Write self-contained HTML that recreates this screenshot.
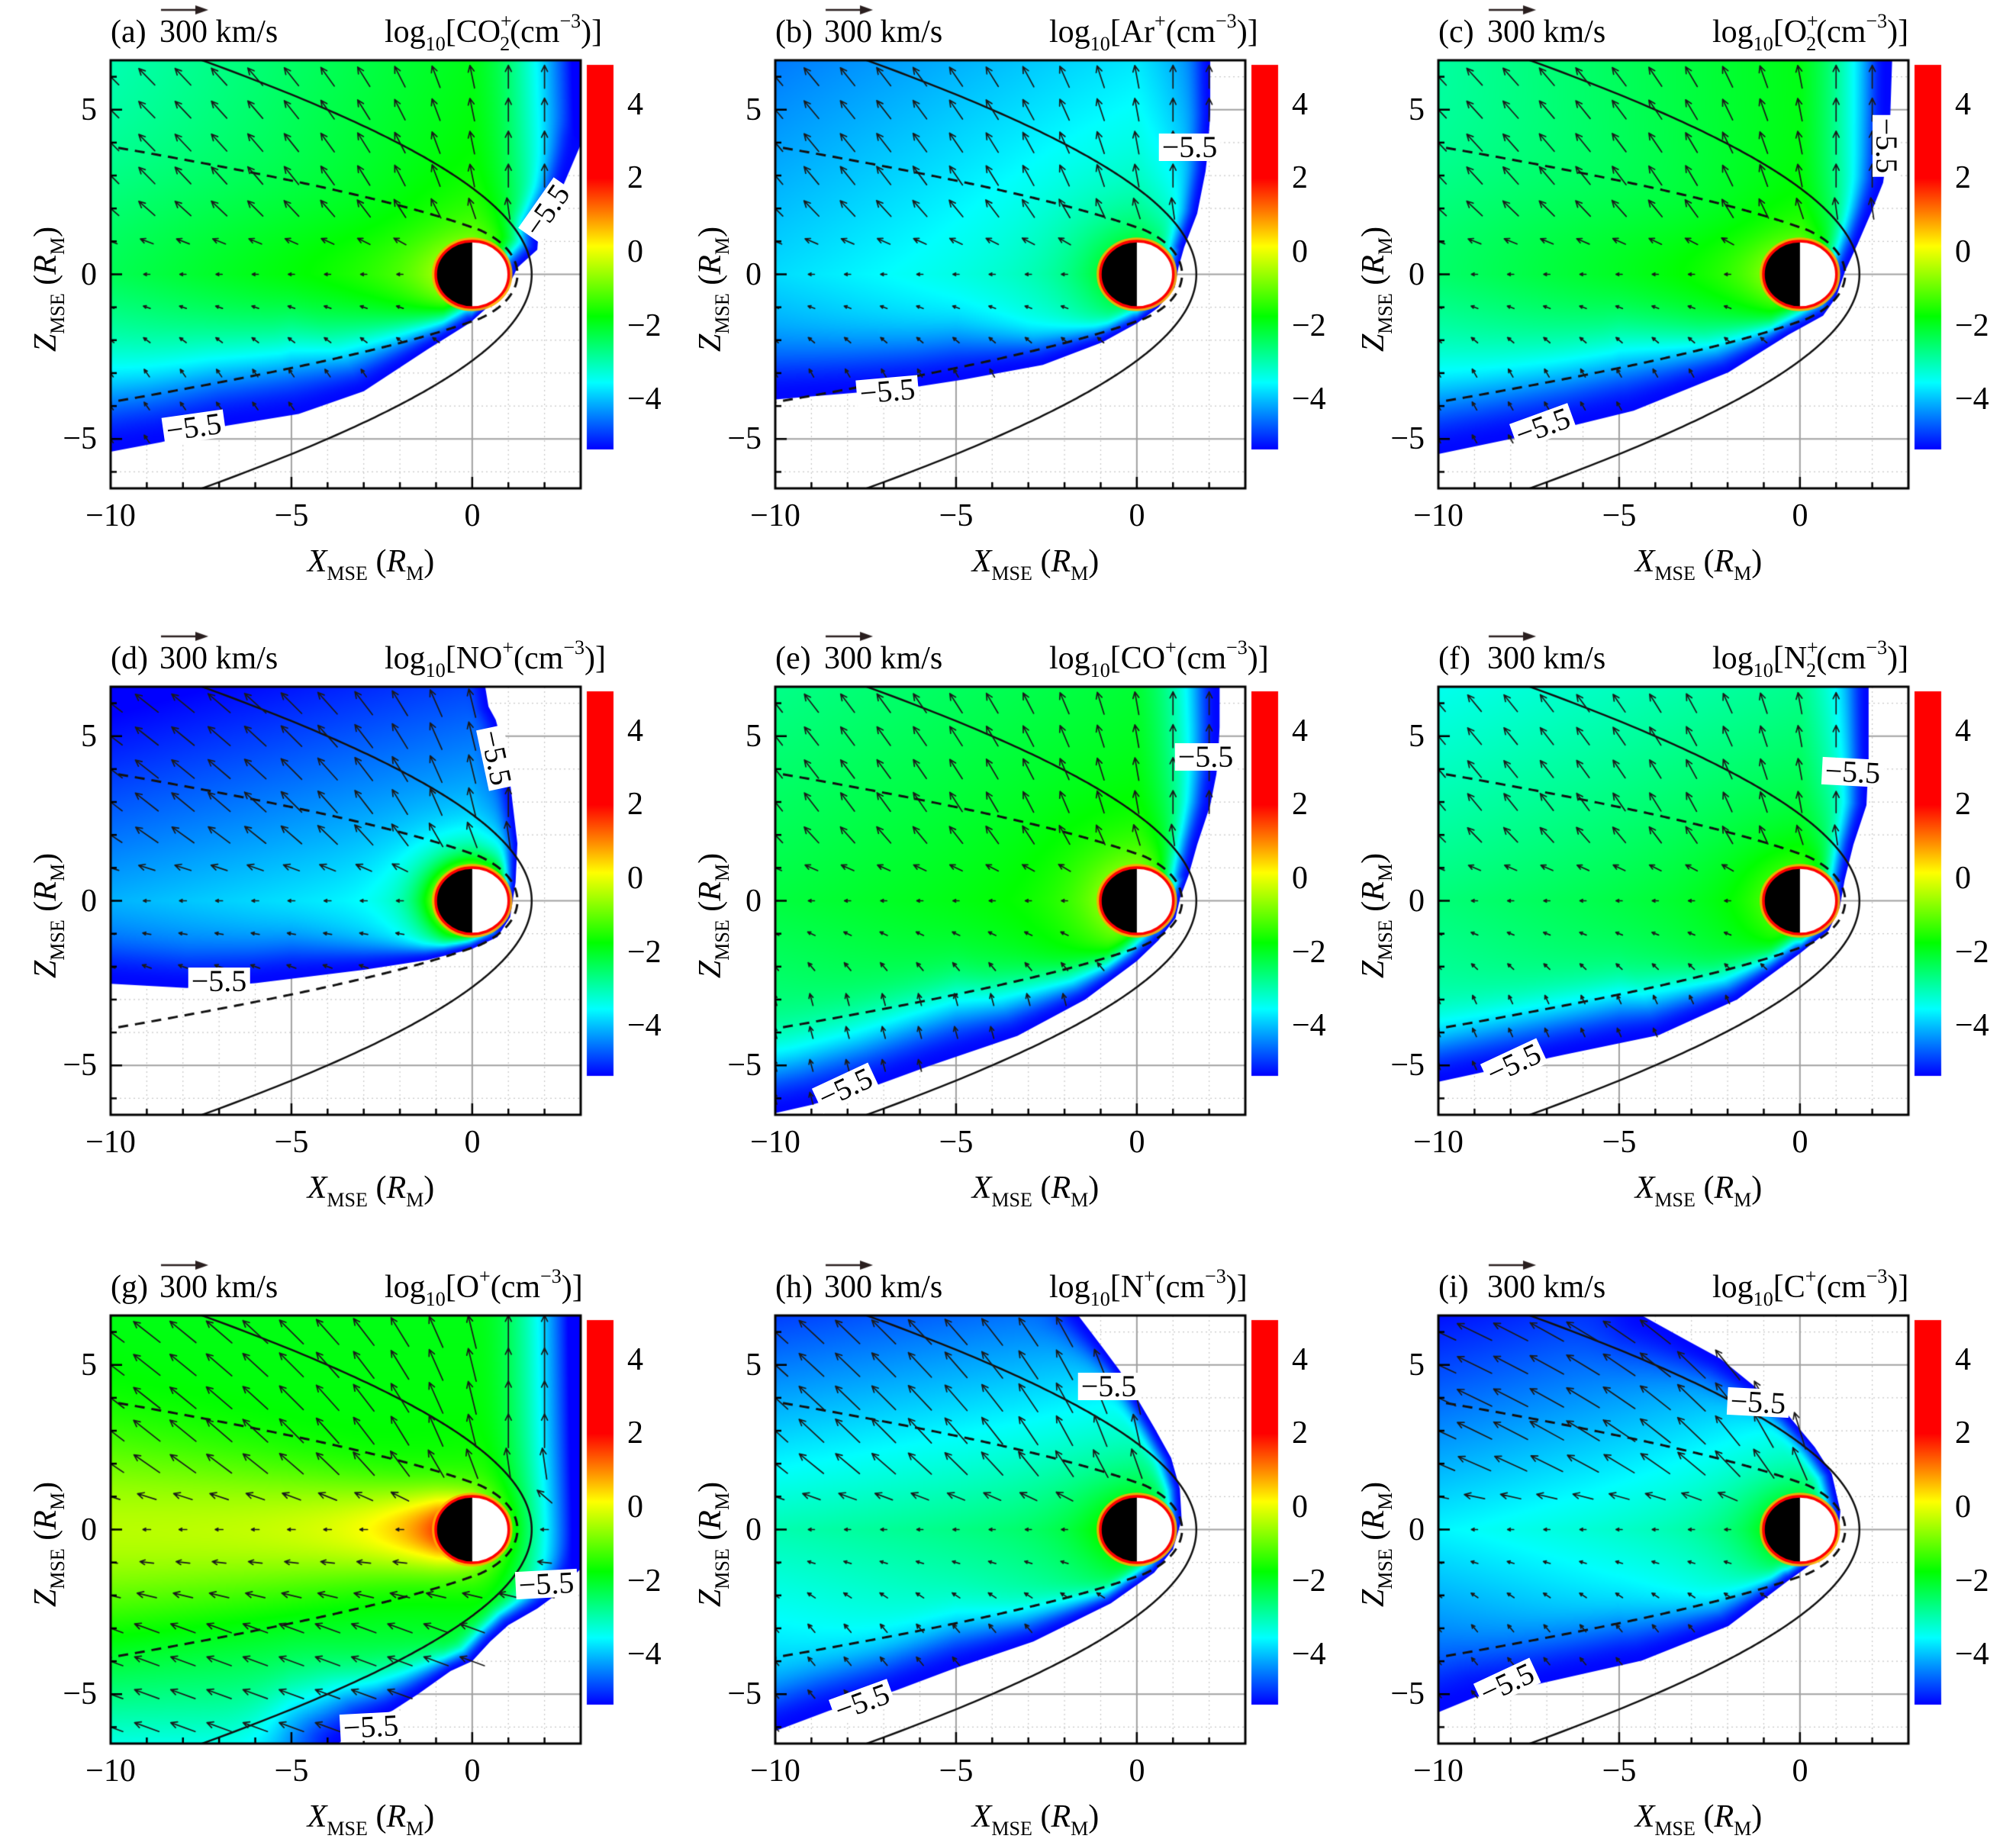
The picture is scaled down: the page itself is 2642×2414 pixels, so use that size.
<!DOCTYPE html>
<html><head><meta charset="utf-8">
<style>
html,body{margin:0;padding:0;background:#fff;}
body{width:2642px;height:2414px;position:relative;overflow:hidden;font-family:"Liberation Serif","DejaVu Serif",serif;color:#000;}
#c{position:absolute;left:0;top:0;}
.t{position:absolute;font-size:42px;line-height:42px;white-space:nowrap;}
.sb{font-size:0.62em;position:relative;top:0.42em;line-height:0;}
.sp{font-size:0.62em;position:relative;top:-0.72em;line-height:0;}
.r{transform:translateX(-100%);}
.ctr{transform:translateX(-50%);}
.zl{transform:translate(-50%,-50%) rotate(-90deg);}
.cl{position:absolute;background:#fff;font-size:40px;line-height:36px;padding:0 4px;white-space:nowrap;}
</style></head><body>
<canvas id="c" width="2642" height="2414"></canvas>

<!-- Panel (a) L=145 T=79 -->
<div class="t" style="left:145px;top:21px">(a)</div>
<div class="t" style="left:209px;top:21px">300 km/s</div>
<div class="t" style="left:504px;top:21px">log<span class="sb">10</span>[CO<span class="sp">+</span><span class="sb" style="margin-left:-0.6em">2</span>(cm<span class="sp">−3</span>)]</div>
<div class="t r" style="left:127px;top:123px">5</div>
<div class="t r" style="left:127px;top:339px">0</div>
<div class="t r" style="left:127px;top:554px">−5</div>
<div class="t ctr" style="left:145px;top:655px">−10</div>
<div class="t ctr" style="left:382px;top:655px">−5</div>
<div class="t ctr" style="left:619px;top:655px">0</div>
<div class="t" style="left:822px;top:116px">4</div>
<div class="t" style="left:822px;top:212px">2</div>
<div class="t" style="left:822px;top:309px">0</div>
<div class="t" style="left:822px;top:406px">−2</div>
<div class="t" style="left:822px;top:502px">−4</div>
<div class="t ctr" style="left:486px;top:715px"><i>X</i><span class="sb">MSE</span> (<i>R</i><span class="sb">M</span>)</div>
<div class="t zl" style="left:60px;top:379px"><i>Z</i><span class="sb">MSE</span> (<i>R</i><span class="sb">M</span>)</div>
<div class="cl" style="left:717px;top:276px;transform:translate(-50%,-50%) rotate(-55deg)">−5.5</div>
<div class="cl" style="left:254px;top:560px;transform:translate(-50%,-50%) rotate(-8deg)">−5.5</div>

<!-- Panel (b) L=1016 T=79 -->
<div class="t" style="left:1016px;top:21px">(b)</div>
<div class="t" style="left:1080px;top:21px">300 km/s</div>
<div class="t" style="left:1375px;top:21px">log<span class="sb">10</span>[Ar<span class="sp">+</span>(cm<span class="sp">−3</span>)]</div>
<div class="t r" style="left:998px;top:123px">5</div>
<div class="t r" style="left:998px;top:339px">0</div>
<div class="t r" style="left:998px;top:554px">−5</div>
<div class="t ctr" style="left:1016px;top:655px">−10</div>
<div class="t ctr" style="left:1253px;top:655px">−5</div>
<div class="t ctr" style="left:1490px;top:655px">0</div>
<div class="t" style="left:1693px;top:116px">4</div>
<div class="t" style="left:1693px;top:212px">2</div>
<div class="t" style="left:1693px;top:309px">0</div>
<div class="t" style="left:1693px;top:406px">−2</div>
<div class="t" style="left:1693px;top:502px">−4</div>
<div class="t ctr" style="left:1357px;top:715px"><i>X</i><span class="sb">MSE</span> (<i>R</i><span class="sb">M</span>)</div>
<div class="t zl" style="left:931px;top:379px"><i>Z</i><span class="sb">MSE</span> (<i>R</i><span class="sb">M</span>)</div>
<div class="cl" style="left:1559px;top:193px;transform:translate(-50%,-50%)">−5.5</div>
<div class="cl" style="left:1163px;top:513px;transform:translate(-50%,-50%) rotate(-5deg)">−5.5</div>

<!-- Panel (c) L=1885 T=79 -->
<div class="t" style="left:1885px;top:21px">(c)</div>
<div class="t" style="left:1949px;top:21px">300 km/s</div>
<div class="t" style="left:2244px;top:21px">log<span class="sb">10</span>[O<span class="sp">+</span><span class="sb" style="margin-left:-0.6em">2</span>(cm<span class="sp">−3</span>)]</div>
<div class="t r" style="left:1867px;top:123px">5</div>
<div class="t r" style="left:1867px;top:339px">0</div>
<div class="t r" style="left:1867px;top:554px">−5</div>
<div class="t ctr" style="left:1885px;top:655px">−10</div>
<div class="t ctr" style="left:2122px;top:655px">−5</div>
<div class="t ctr" style="left:2359px;top:655px">0</div>
<div class="t" style="left:2562px;top:116px">4</div>
<div class="t" style="left:2562px;top:212px">2</div>
<div class="t" style="left:2562px;top:309px">0</div>
<div class="t" style="left:2562px;top:406px">−2</div>
<div class="t" style="left:2562px;top:502px">−4</div>
<div class="t ctr" style="left:2226px;top:715px"><i>X</i><span class="sb">MSE</span> (<i>R</i><span class="sb">M</span>)</div>
<div class="t zl" style="left:1800px;top:379px"><i>Z</i><span class="sb">MSE</span> (<i>R</i><span class="sb">M</span>)</div>
<div class="cl" style="left:2472px;top:191px;transform:translate(-50%,-50%) rotate(90deg)">−5.5</div>
<div class="cl" style="left:2022px;top:559px;transform:translate(-50%,-50%) rotate(-20deg)">−5.5</div>

<!-- Panel (d) L=145 T=900 -->
<div class="t" style="left:145px;top:842px">(d)</div>
<div class="t" style="left:209px;top:842px">300 km/s</div>
<div class="t" style="left:504px;top:842px">log<span class="sb">10</span>[NO<span class="sp">+</span>(cm<span class="sp">−3</span>)]</div>
<div class="t r" style="left:127px;top:944px">5</div>
<div class="t r" style="left:127px;top:1160px">0</div>
<div class="t r" style="left:127px;top:1375px">−5</div>
<div class="t ctr" style="left:145px;top:1476px">−10</div>
<div class="t ctr" style="left:382px;top:1476px">−5</div>
<div class="t ctr" style="left:619px;top:1476px">0</div>
<div class="t" style="left:822px;top:937px">4</div>
<div class="t" style="left:822px;top:1033px">2</div>
<div class="t" style="left:822px;top:1130px">0</div>
<div class="t" style="left:822px;top:1227px">−2</div>
<div class="t" style="left:822px;top:1323px">−4</div>
<div class="t ctr" style="left:486px;top:1536px"><i>X</i><span class="sb">MSE</span> (<i>R</i><span class="sb">M</span>)</div>
<div class="t zl" style="left:60px;top:1200px"><i>Z</i><span class="sb">MSE</span> (<i>R</i><span class="sb">M</span>)</div>
<div class="cl" style="left:650px;top:993px;transform:translate(-50%,-50%) rotate(78deg)">−5.5</div>
<div class="cl" style="left:287px;top:1286px;transform:translate(-50%,-50%)">−5.5</div>

<!-- Panel (e) L=1016 T=900 -->
<div class="t" style="left:1016px;top:842px">(e)</div>
<div class="t" style="left:1080px;top:842px">300 km/s</div>
<div class="t" style="left:1375px;top:842px">log<span class="sb">10</span>[CO<span class="sp">+</span>(cm<span class="sp">−3</span>)]</div>
<div class="t r" style="left:998px;top:944px">5</div>
<div class="t r" style="left:998px;top:1160px">0</div>
<div class="t r" style="left:998px;top:1375px">−5</div>
<div class="t ctr" style="left:1016px;top:1476px">−10</div>
<div class="t ctr" style="left:1253px;top:1476px">−5</div>
<div class="t ctr" style="left:1490px;top:1476px">0</div>
<div class="t" style="left:1693px;top:937px">4</div>
<div class="t" style="left:1693px;top:1033px">2</div>
<div class="t" style="left:1693px;top:1130px">0</div>
<div class="t" style="left:1693px;top:1227px">−2</div>
<div class="t" style="left:1693px;top:1323px">−4</div>
<div class="t ctr" style="left:1357px;top:1536px"><i>X</i><span class="sb">MSE</span> (<i>R</i><span class="sb">M</span>)</div>
<div class="t zl" style="left:931px;top:1200px"><i>Z</i><span class="sb">MSE</span> (<i>R</i><span class="sb">M</span>)</div>
<div class="cl" style="left:1580px;top:992px;transform:translate(-50%,-50%)">−5.5</div>
<div class="cl" style="left:1108px;top:1426px;transform:translate(-50%,-50%) rotate(-25deg)">−5.5</div>

<!-- Panel (f) L=1885 T=900 -->
<div class="t" style="left:1885px;top:842px">(f)</div>
<div class="t" style="left:1949px;top:842px">300 km/s</div>
<div class="t" style="left:2244px;top:842px">log<span class="sb">10</span>[N<span class="sp">+</span><span class="sb" style="margin-left:-0.6em">2</span>(cm<span class="sp">−3</span>)]</div>
<div class="t r" style="left:1867px;top:944px">5</div>
<div class="t r" style="left:1867px;top:1160px">0</div>
<div class="t r" style="left:1867px;top:1375px">−5</div>
<div class="t ctr" style="left:1885px;top:1476px">−10</div>
<div class="t ctr" style="left:2122px;top:1476px">−5</div>
<div class="t ctr" style="left:2359px;top:1476px">0</div>
<div class="t" style="left:2562px;top:937px">4</div>
<div class="t" style="left:2562px;top:1033px">2</div>
<div class="t" style="left:2562px;top:1130px">0</div>
<div class="t" style="left:2562px;top:1227px">−2</div>
<div class="t" style="left:2562px;top:1323px">−4</div>
<div class="t ctr" style="left:2226px;top:1536px"><i>X</i><span class="sb">MSE</span> (<i>R</i><span class="sb">M</span>)</div>
<div class="t zl" style="left:1800px;top:1200px"><i>Z</i><span class="sb">MSE</span> (<i>R</i><span class="sb">M</span>)</div>
<div class="cl" style="left:2428px;top:1012px;transform:translate(-50%,-50%) rotate(3deg)">−5.5</div>
<div class="cl" style="left:1984px;top:1394px;transform:translate(-50%,-50%) rotate(-25deg)">−5.5</div>

<!-- Panel (g) L=145 T=1724 -->
<div class="t" style="left:145px;top:1666px">(g)</div>
<div class="t" style="left:209px;top:1666px">300 km/s</div>
<div class="t" style="left:504px;top:1666px">log<span class="sb">10</span>[O<span class="sp">+</span>(cm<span class="sp">−3</span>)]</div>
<div class="t r" style="left:127px;top:1768px">5</div>
<div class="t r" style="left:127px;top:1984px">0</div>
<div class="t r" style="left:127px;top:2199px">−5</div>
<div class="t ctr" style="left:145px;top:2300px">−10</div>
<div class="t ctr" style="left:382px;top:2300px">−5</div>
<div class="t ctr" style="left:619px;top:2300px">0</div>
<div class="t" style="left:822px;top:1761px">4</div>
<div class="t" style="left:822px;top:1857px">2</div>
<div class="t" style="left:822px;top:1954px">0</div>
<div class="t" style="left:822px;top:2051px">−2</div>
<div class="t" style="left:822px;top:2147px">−4</div>
<div class="t ctr" style="left:486px;top:2360px"><i>X</i><span class="sb">MSE</span> (<i>R</i><span class="sb">M</span>)</div>
<div class="t zl" style="left:60px;top:2024px"><i>Z</i><span class="sb">MSE</span> (<i>R</i><span class="sb">M</span>)</div>
<div class="cl" style="left:716px;top:2076px;transform:translate(-50%,-50%) rotate(-3deg)">−5.5</div>
<div class="cl" style="left:486px;top:2263px;transform:translate(-50%,-50%) rotate(-3deg)">−5.5</div>

<!-- Panel (h) L=1016 T=1724 -->
<div class="t" style="left:1016px;top:1666px">(h)</div>
<div class="t" style="left:1080px;top:1666px">300 km/s</div>
<div class="t" style="left:1375px;top:1666px">log<span class="sb">10</span>[N<span class="sp">+</span>(cm<span class="sp">−3</span>)]</div>
<div class="t r" style="left:998px;top:1768px">5</div>
<div class="t r" style="left:998px;top:1984px">0</div>
<div class="t r" style="left:998px;top:2199px">−5</div>
<div class="t ctr" style="left:1016px;top:2300px">−10</div>
<div class="t ctr" style="left:1253px;top:2300px">−5</div>
<div class="t ctr" style="left:1490px;top:2300px">0</div>
<div class="t" style="left:1693px;top:1761px">4</div>
<div class="t" style="left:1693px;top:1857px">2</div>
<div class="t" style="left:1693px;top:1954px">0</div>
<div class="t" style="left:1693px;top:2051px">−2</div>
<div class="t" style="left:1693px;top:2147px">−4</div>
<div class="t ctr" style="left:1357px;top:2360px"><i>X</i><span class="sb">MSE</span> (<i>R</i><span class="sb">M</span>)</div>
<div class="t zl" style="left:931px;top:2024px"><i>Z</i><span class="sb">MSE</span> (<i>R</i><span class="sb">M</span>)</div>
<div class="cl" style="left:1453px;top:1817px;transform:translate(-50%,-50%)">−5.5</div>
<div class="cl" style="left:1130px;top:2231px;transform:translate(-50%,-50%) rotate(-20deg)">−5.5</div>

<!-- Panel (i) L=1885 T=1724 -->
<div class="t" style="left:1885px;top:1666px">(i)</div>
<div class="t" style="left:1949px;top:1666px">300 km/s</div>
<div class="t" style="left:2244px;top:1666px">log<span class="sb">10</span>[C<span class="sp">+</span>(cm<span class="sp">−3</span>)]</div>
<div class="t r" style="left:1867px;top:1768px">5</div>
<div class="t r" style="left:1867px;top:1984px">0</div>
<div class="t r" style="left:1867px;top:2199px">−5</div>
<div class="t ctr" style="left:1885px;top:2300px">−10</div>
<div class="t ctr" style="left:2122px;top:2300px">−5</div>
<div class="t ctr" style="left:2359px;top:2300px">0</div>
<div class="t" style="left:2562px;top:1761px">4</div>
<div class="t" style="left:2562px;top:1857px">2</div>
<div class="t" style="left:2562px;top:1954px">0</div>
<div class="t" style="left:2562px;top:2051px">−2</div>
<div class="t" style="left:2562px;top:2147px">−4</div>
<div class="t ctr" style="left:2226px;top:2360px"><i>X</i><span class="sb">MSE</span> (<i>R</i><span class="sb">M</span>)</div>
<div class="t zl" style="left:1800px;top:2024px"><i>Z</i><span class="sb">MSE</span> (<i>R</i><span class="sb">M</span>)</div>
<div class="cl" style="left:2304px;top:1838px;transform:translate(-50%,-50%) rotate(3deg)">−5.5</div>
<div class="cl" style="left:1975px;top:2206px;transform:translate(-50%,-50%) rotate(-25deg)">−5.5</div>

<script>
(function(){
var cv=document.getElementById('c');var ctx=cv.getContext('2d');
var W=616,H=561,SX=W/13,SZ=H/13;
var COLS=[145,1016,1885],ROWS=[79,900,1724];
var STOPS=[[-5.4,0,0,255],[-3.55,0,255,255],[-1.75,0,255,0],[0.15,255,255,0],[1.05,255,128,0],[2.0,255,0,0]];
function cmap(v){
  if(v<=STOPS[0][0])return [0,0,255];
  for(var i=1;i<STOPS.length;i++){var s1=STOPS[i];if(v<=s1[0]){var s0=STOPS[i-1];var t=(v-s0[0])/(s1[0]-s0[0]);
    return [s0[1]+(s1[1]-s0[1])*t,s0[2]+(s1[2]-s0[2])*t,s0[3]+(s1[3]-s0[3])*t];}}
  return [255,0,0];
}
var DEF={A:-2,Gx:0,R1:0,R2:0,Zu:0,Zl:0,Zq:0,N:0,Ln:1,Tt:0,Tb:0,Lb:2,w0:0.8,w1:0.25,ld:1.2,phi:45,Lu:30,Lt:8,tl:120,Ll:12};
var PANELS=[
 {c:0,r:0,A:-1.6,Gx:0.11,R1:0.3,R2:0.35,Zu:-0.05,Zl:-0.25,N:0.8,Ln:1.0,Tt:0.35,w0:0.8,w1:0.25,ld:1.8,phi:47,Lu:30,Lt:8,tl:125,Ll:12,
  poly:[[-10,6.5],[3,6.5],[3,3.94],[2.4,2.4],[1.85,1.45],[1.8,0.75],[1.25,0.2],[1.12,-0.09],[0.95,-0.5],[0.53,-0.9],[-0.06,-1.47],[-1.24,-2.28],[-3.0,-3.55],[-4.8,-4.24],[-6.8,-4.6],[-8.6,-5.1],[-10,-5.39]]},
 {c:1,r:0,A:-3.0,Gx:0.08,R1:0.3,R2:0.1,Zu:-0.11,Zl:-0.2,N:1.0,Ln:1.2,ld:1.3,phi:42,Lu:30,Lt:8,tl:120,Ll:12,
  poly:[[-10,6.5],[2.03,6.5],[2.03,4.85],[1.95,3.6],[1.9,3.12],[1.67,1.85],[1.31,0.82],[1.15,0.2],[1.05,-0.4],[0.6,-1.0],[0,-1.49],[-0.95,-2.06],[-2.6,-2.75],[-4.8,-3.2],[-6,-3.4],[-7.8,-3.6],[-10,-3.8]]},
 {c:2,r:0,A:-1.9,Gx:0.1,R1:0.5,R2:0.4,Zu:0,Zl:-0.2,N:0.8,Ln:1.0,Tt:0.4,w0:0.8,w1:0.25,ld:1.7,phi:45,Lu:30,Lt:8,tl:120,Ll:12,
  poly:[[-10,6.5],[2.55,6.5],[2.5,4.85],[2.4,3.5],[2.3,2.78],[1.96,1.85],[1.6,0.93],[1.25,0.1],[1.0,-0.7],[0.64,-1.26],[-0.31,-1.83],[-1.98,-2.98],[-4.6,-4.14],[-6.3,-4.6],[-8.0,-5.0],[-10,-5.46]]},
 {c:0,r:1,A:-3.4,Gx:0.07,R1:0.5,R2:0,Zu:-0.23,Zl:-0.3,N:3.0,Ln:0.58,ld:1.0,phi:55,Lu:38,Lt:9,tl:150,Ll:14,
  poly:[[-10,6.5],[0.36,6.5],[0.45,5.9],[0.65,5.5],[0.9,4.5],[1.07,3.4],[1.25,1.74],[1.2,0.56],[1.05,-0.5],[0.7,-1.1],[0,-1.46],[-1.25,-1.8],[-3,-2.1],[-6,-2.5],[-7.9,-2.65],[-10,-2.52]]},
 {c:1,r:1,A:-1.6,Gx:0.06,R1:0.4,R2:0.45,Zu:-0.08,Zl:-0.12,N:0.95,Ln:1.0,ld:1.7,phi:40,Lu:30,Lt:8,tl:105,Ll:16,
  poly:[[-10,6.5],[2.29,6.5],[2.29,5.28],[2.25,4.4],[2.2,3.84],[2.03,2.9],[1.67,1.71],[1.43,0.77],[1.2,0.1],[1.07,-0.53],[0.6,-1.2],[0,-1.83],[-1.43,-3.0],[-3.3,-4.1],[-5.7,-5.0],[-7.2,-5.6],[-9,-6.2],[-10,-6.45]]},
 {c:2,r:1,A:-1.9,Gx:0.07,R1:0.4,R2:0.4,Zu:-0.13,Zl:-0.1,N:0.75,Ln:1.0,ld:1.5,phi:42,Lu:28,Lt:8,tl:115,Ll:12,
  poly:[[-10,6.5],[1.9,6.5],[1.9,4.33],[1.84,2.9],[1.48,1.71],[1.24,0.65],[1.1,-0.2],[0.8,-0.9],[0,-1.6],[-1.74,-3.0],[-3.9,-4.08],[-6.5,-4.67],[-7.9,-5.0],[-10,-5.5]]},
 {c:0,r:2,A:-1.7,Gx:0,R1:0,R2:0.5,Zu:-0.03,Zl:0,Zq:-0.04,N:0.8,Ln:0.8,Tt:1.3,Tb:1.2,Lb:2.0,w0:0.9,w1:0.2,ld:1.6,phi:55,Lu:44,Lt:10,tl:160,Ll:34,
  poly:[[-10,6.5],[3,6.5],[3,-1.2],[2.6,-1.6],[2.3,-2.0],[1.8,-2.4],[1.0,-2.9],[0.5,-3.4],[0,-4.0],[-0.6,-4.3],[-1.5,-5.0],[-2.2,-5.5],[-3.0,-5.9],[-3.7,-6.5],[-10,-6.5]]},
 {c:1,r:2,A:-2.4,Gx:0.06,R1:0.3,R2:0,Zu:-0.3,Zl:-0.2,N:0.8,Ln:1.0,ld:1.2,phi:50,Lu:44,Lt:8,tl:130,Ll:14,
  poly:[[-10,6.5],[-1.62,6.5],[-0.95,5.53],[-0.48,4.84],[0.0,4.0],[0.48,3.1],[0.95,2.17],[1.19,1.24],[1.24,0.3],[1.0,-0.6],[0.48,-1.31],[-0.72,-2.24],[-2.86,-3.4],[-5,-4.2],[-6.7,-4.9],[-8.5,-5.5],[-10,-6.12]]},
 {c:2,r:2,A:-2.8,Gx:0.08,R1:0.3,R2:0,Zu:-0.26,Zl:-0.25,N:1.0,Ln:1.0,ld:1.2,phi:68,Lu:50,Lt:8,tl:130,Ll:12,
  poly:[[-10,6.5],[-4.37,6.5],[-3.17,5.77],[-2.2,5.19],[-1.2,4.3],[-0.31,3.45],[0.41,2.5],[0.88,1.7],[1.12,0.55],[1.05,-0.2],[0.88,-0.61],[-0.31,-1.54],[-1.98,-2.93],[-4.37,-3.98],[-7.2,-4.68],[-9.0,-5.1],[-10,-5.55]]}
];
function px(p,x){return p.L+(x+10)*SX;}
function pz(p,z){return p.T+(6.5-z)*SZ;}
function segs(poly){
  var s=[];
  for(var i=0;i<poly.length;i++){
    var a=poly[i],b=poly[(i+1)%poly.length];
    var onF=(a[0]===b[0]&&(a[0]<=-10||a[0]>=3))||(a[1]===b[1]&&Math.abs(a[1])>=6.5);
    if(onF)continue;
    var near=(Math.hypot(a[0],a[1])<1.7&&Math.hypot(b[0],b[1])<1.7)?1:0;
    s.push([a[0],a[1],b[0],b[1],near]);
  }
  return s;
}
function dseg(x,z,s){
  var dx=s[2]-s[0],dz=s[3]-s[1];var l2=dx*dx+dz*dz;
  var t=l2>0?((x-s[0])*dx+(z-s[1])*dz)/l2:0;t=t<0?0:(t>1?1:t);
  var ex=s[0]+t*dx-x,ez=s[1]+t*dz-z;return Math.sqrt(ex*ex+ez*ez);
}
function val(p,x,z){
  var r=Math.sqrt(x*x+z*z);
  var v=p.A;
  if(x<0)v+=p.Gx*x;else v-=p.R1*x+p.R2*x*x;
  if(z>0)v+=p.Zu*z;else v+=p.Zl*(-z)+p.Zq*z*z;
  v+=p.N*Math.exp(-(Math.max(r,1)-1)/p.Ln);
  if(p.Tt||p.Tb){
    var ax=Math.abs(Math.min(x,0));var w=p.w0+p.w1*ax;
    var amp=p.Tt+p.Tb*Math.exp(-Math.max(ax-1,0)/p.Lb);
    if(x>0)amp*=Math.exp(-3*x);
    v+=amp*Math.exp(-(z*z)/(w*w));
  }
  var lsc=Math.min(1,Math.max(0.3,(1-x)/6));
  var e=1e9;
  for(var k=0;k<p.S.length;k++){var s=p.S[k];var d=dseg(x,z,s);var l=s[4]?0.3:p.ld*lsc;var q=d/l;if(q<e)e=q;}
  var f=Math.exp(-e*e);
  return v+(-5.35-v)*f;
}
function regionPath(p){
  var path=new Path2D();
  p.poly.forEach(function(q,i){var X=px(p,q[0]),Y=pz(p,q[1]);if(i)path.lineTo(X,Y);else path.moveTo(X,Y);});
  path.closePath();return path;
}
function drawGrid(p){
  ctx.save();ctx.beginPath();ctx.rect(p.L,p.T,W,H);ctx.clip();
  ctx.setLineDash([2,4]);ctx.strokeStyle='#c8c8c8';ctx.lineWidth=1.2;
  for(var x=-9;x<=2;x++){if(x===-5||x===0)continue;ctx.beginPath();ctx.moveTo(px(p,x),p.T);ctx.lineTo(px(p,x),p.T+H);ctx.stroke();}
  for(var z=-6;z<=6;z++){if(z===-5||z===0||z===5)continue;ctx.beginPath();ctx.moveTo(p.L,pz(p,z));ctx.lineTo(p.L+W,pz(p,z));ctx.stroke();}
  ctx.setLineDash([]);ctx.strokeStyle='#a0a0a0';ctx.lineWidth=2;
  [-5,0].forEach(function(x){ctx.beginPath();ctx.moveTo(px(p,x),p.T);ctx.lineTo(px(p,x),p.T+H);ctx.stroke();});
  [-5,0,5].forEach(function(z){ctx.beginPath();ctx.moveTo(p.L,pz(p,z));ctx.lineTo(p.L+W,pz(p,z));ctx.stroke();});
  ctx.restore();
}
function drawField(p,rp){
  var ow=308,oh=281;
  var off=document.createElement('canvas');off.width=ow;off.height=oh;
  var oc=off.getContext('2d');var im=oc.createImageData(ow,oh);var d=im.data;
  for(var j=0;j<oh;j++){var z=6.5-(j+0.5)*13/oh;
    for(var i=0;i<ow;i++){var x=-10+(i+0.5)*13/ow;var c=cmap(val(p,x,z));var k=(j*ow+i)*4;
      d[k]=c[0];d[k+1]=c[1];d[k+2]=c[2];d[k+3]=255;}}
  oc.putImageData(im,0,0);
  ctx.save();ctx.clip(rp);ctx.imageSmoothingEnabled=true;ctx.drawImage(off,p.L,p.T,W,H);ctx.restore();
}
function stroke(p,pts,dash,lw){
  ctx.save();ctx.beginPath();ctx.rect(p.L,p.T,W,H);ctx.clip();
  ctx.setLineDash(dash);ctx.lineWidth=lw;ctx.strokeStyle='#111';ctx.lineJoin='round';
  ctx.beginPath();
  pts.forEach(function(q,i){var X=px(p,q[0]),Y=pz(p,q[1]);if(i)ctx.lineTo(X,Y);else ctx.moveTo(X,Y);});
  ctx.stroke();ctx.restore();
}
var BS=[];
for(var th=-146;th<=146;th+=0.5){var t=th*Math.PI/180;var rr=2.04/(1+1.03*Math.cos(t));BS.push([0.64+rr*Math.cos(t),rr*Math.sin(t)]);}
var MPB=[];
function night(t){var rr=0.528/(1+1.009*Math.cos(t));return [1.6+rr*Math.cos(t),rr*Math.sin(t)];}
function day(t){var rr=1.08/(1+0.77*Math.cos(t));return [0.64+rr*Math.cos(t),rr*Math.sin(t)];}
for(var a1=-165;a1<=-138.3;a1+=0.1)MPB.push(night(a1*Math.PI/180));
for(var a2=-114;a2<=114;a2+=1)MPB.push(day(a2*Math.PI/180));
for(var a3=138.3;a3<=165;a3+=0.1)MPB.push(night(a3*Math.PI/180));
function drawArrows(p,rp){
  ctx.save();ctx.beginPath();ctx.rect(p.L,p.T,W,H);ctx.clip();
  ctx.strokeStyle='#1a1a1a';ctx.lineWidth=1.7;ctx.lineCap='round';ctx.setLineDash([]);
  for(var zi=-6;zi<=6;zi++)for(var xi=-10;xi<=2;xi++){
    var x=xi,z=zi;if(x*x+z*z<2.2)continue;
    var X=px(p,x),Y=pz(p,z);
    if(!ctx.isPointInPath(rp,X,Y))continue;
    var ang,len;
    if(z>=0){var su=Math.min(z/2.2,1);var g=Math.max(0,1-Math.exp(-(1-x)/3.5));var tu=90+p.phi*g;ang=180+(tu-180)*su;len=p.Lt+(p.Lu-p.Lt)*su;}
    else{var sl=Math.min(-z/3,1);ang=180+(p.tl-180)*sl;len=p.Lt+(p.Ll-p.Lt)*sl;}
    var a=ang*Math.PI/180;var ux=Math.cos(a),uy=-Math.sin(a);
    var x0=X-ux*len/2,y0=Y-uy*len/2,x1=X+ux*len/2,y1=Y+uy*len/2;
    ctx.beginPath();ctx.moveTo(x0,y0);ctx.lineTo(x1,y1);
    var hl=Math.min(9,Math.max(4,len*0.4));
    for(var sgn=-1;sgn<=1;sgn+=2){var b=a+Math.PI+sgn*0.45;ctx.moveTo(x1,y1);ctx.lineTo(x1+hl*Math.cos(b),y1-hl*Math.sin(b));}
    ctx.stroke();
  }
  ctx.restore();
}
function drawPlanet(p){
  var cx=px(p,0),cy=pz(p,0);
  ctx.save();ctx.setLineDash([]);
  ctx.beginPath();ctx.ellipse(cx,cy,SX*1.06,SZ*1.06,0,0,2*Math.PI);ctx.lineWidth=5;ctx.strokeStyle='rgba(255,170,0,0.9)';ctx.stroke();
  ctx.beginPath();ctx.ellipse(cx,cy,SX,SZ,0,0,2*Math.PI);ctx.fillStyle='#fff';ctx.fill();
  ctx.beginPath();ctx.ellipse(cx,cy,SX,SZ,0,Math.PI/2,3*Math.PI/2);ctx.closePath();ctx.fillStyle='#000';ctx.fill();
  ctx.beginPath();ctx.ellipse(cx,cy,SX*1.01,SZ*1.01,0,0,2*Math.PI);ctx.lineWidth=3.5;ctx.strokeStyle='#ff0000';ctx.stroke();
  ctx.restore();
}
function drawFrame(p){
  ctx.save();ctx.setLineDash([]);ctx.strokeStyle='#000';
  ctx.lineWidth=2.5;
  for(var z=-6;z<=6;z++){var l=(z%5===0)?15:8;var Y=pz(p,z);ctx.beginPath();ctx.moveTo(p.L,Y);ctx.lineTo(p.L+l,Y);ctx.stroke();}
  for(var x=-9;x<=2;x++){var l2=(x%5===0)?15:8;var X=px(p,x);ctx.beginPath();ctx.moveTo(X,p.T+H);ctx.lineTo(X,p.T+H-l2);ctx.stroke();}
  ctx.lineWidth=3;ctx.strokeRect(p.L,p.T,W,H);
  ctx.restore();
}
function drawCbar(p){
  var x0=p.L+624,cbt=p.T+6,cbb=p.T+510,vb=-5.36,vt=5.07;
  var g=ctx.createLinearGradient(0,cbb,0,cbt);
  STOPS.forEach(function(s){var o=(s[0]-vb)/(vt-vb);o=Math.max(0,Math.min(1,o));g.addColorStop(o,'rgb('+s[1]+','+s[2]+','+s[3]+')');});
  g.addColorStop(1,'rgb(255,0,0)');
  ctx.fillStyle=g;ctx.fillRect(x0,cbt,35,cbb-cbt);
}
function drawScale(p){
  var y=p.T-66;
  ctx.save();ctx.setLineDash([]);ctx.strokeStyle='#2a1f1f';ctx.fillStyle='#2a1f1f';ctx.lineWidth=2.5;
  ctx.beginPath();ctx.moveTo(p.L+66,y);ctx.lineTo(p.L+116,y);ctx.stroke();
  ctx.beginPath();ctx.moveTo(p.L+128,y);ctx.lineTo(p.L+111,y-6);ctx.lineTo(p.L+111,y+6);ctx.closePath();ctx.fill();
  ctx.restore();
}
PANELS.forEach(function(q){
  var p={};for(var k in DEF)p[k]=DEF[k];for(var k2 in q)p[k2]=q[k2];
  p.L=COLS[p.c];p.T=ROWS[p.r];p.S=segs(p.poly);
  try{
    var rp=regionPath(p);
    drawGrid(p);
    drawField(p,rp);
    stroke(p,BS,[],2.5);
    stroke(p,MPB,[13,9],3);
    drawArrows(p,rp);
    drawPlanet(p);
    drawFrame(p);
    drawCbar(p);
    drawScale(p);
  }catch(e){}
});
})();
</script>
</body></html>
